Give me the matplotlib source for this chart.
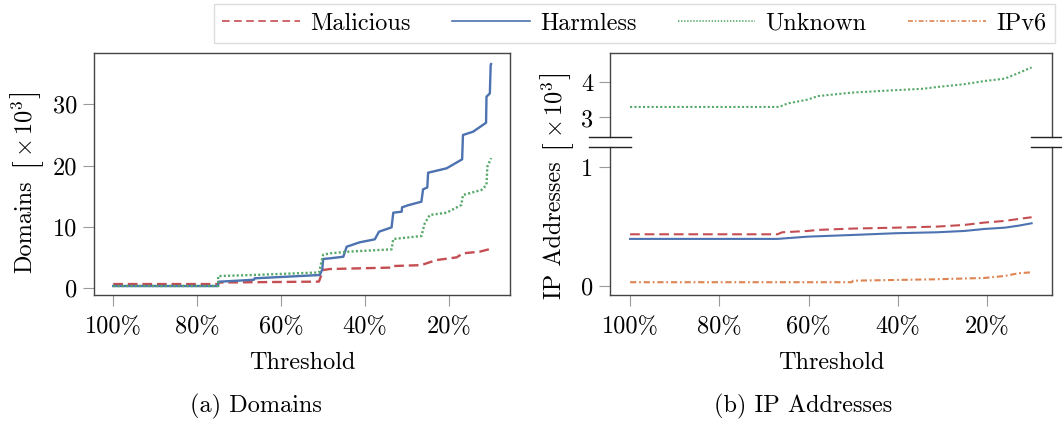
import matplotlib
matplotlib.use("Agg")
import matplotlib.pyplot as plt
from matplotlib.lines import Line2D

plt.rcParams['font.family'] = 'serif'
plt.rcParams['font.serif'] = ['cmr10']
plt.rcParams['mathtext.fontset'] = 'cm'
plt.rcParams['axes.unicode_minus'] = False
plt.rcParams['lines.scale_dashes'] = False

# colours / styles per series
RED, BLUE, GREEN, ORANGE = '#c44e52', '#4c72b0', '#55a868', '#dd8452'
DASH = (0, (7, 3.5))
DOT = (0, (1.5, 1.6))
DASHDOT = (0, (4.5, 2, 1.3, 2))

# (a) Domains, values in thousands
dom_mal_thr = [100, 75, 75, 51, 50, 48.4, 46, 33.5, 33.3, 26.6, 25.4, 23, 18.2, 16.7, 12.7, 10]
dom_mal = [0.6, 0.6, 0.85, 1.0, 2.9, 3.06, 3.1, 3.3, 3.55, 3.7, 3.99, 4.53, 4.97, 5.63, 5.9, 6.38]

dom_harm_thr = [100, 75, 75, 66.5, 66.3, 50.8, 50.2, 50, 48.4, 45.2, 44.4, 41.3, 37.7, 36.7,
                33.7, 33.3, 31.3, 31.2, 29.8, 26.6, 26.2, 25.2, 25.0, 20.6, 16.9, 16.7,
                14.3, 11.2, 11.1, 10.3, 10.1, 10]
dom_harm = [0.28, 0.28, 0.98, 1.3, 1.54, 2.08, 3.0, 4.7, 4.81, 5.07, 6.71, 7.43, 7.92, 9.17,
            9.88, 12.28, 12.44, 13.16, 13.49, 14.08, 16.1, 16.4, 18.82, 19.54, 21.01, 24.99,
            25.53, 27.0, 31.26, 31.8, 36.45, 36.6]

dom_unk_thr = [100, 75, 75, 66, 51, 50, 48.4, 44, 33.7, 33.3, 26.6, 25.8, 24.6, 20.6, 17.1,
               16.7, 12.3, 11.1, 10.9, 10]
dom_unk = [0.28, 0.28, 1.91, 2.1, 2.5, 5.4, 5.63, 5.9, 6.28, 7.97, 8.46, 10.54, 11.9, 12.28,
           13.54, 15.17, 16.0, 16.8, 19.8, 21.2]

# (b) IP addresses, values in thousands
ip_mal_thr = [100, 67, 65.9, 60.2, 57.9, 50.3, 40.4, 31.2, 25.1, 20.6, 16, 12.9, 10]
ip_mal = [0.434, 0.434, 0.451, 0.462, 0.471, 0.482, 0.49, 0.499, 0.513, 0.533, 0.547, 0.564, 0.578]

ip_harm_thr = [100, 67, 60.2, 50.3, 40.4, 31.2, 25.1, 20.6, 16, 12.9, 10]
ip_harm = [0.395, 0.395, 0.414, 0.428, 0.443, 0.451, 0.462, 0.479, 0.49, 0.507, 0.527]

ip_unk_thr = [100, 66.6, 64.7, 60.2, 57.9, 50.3, 40.4, 34.3, 31.2, 25.1, 20.6, 16.0, 12.9, 10]
ip_unk = [3.30, 3.30, 3.40, 3.51, 3.61, 3.71, 3.78, 3.82, 3.87, 3.95, 4.04, 4.11, 4.27, 4.43]

ip_v6_thr = [100, 50.3, 50, 31.2, 20.6, 16, 12.9, 10]
ip_v6 = [0.029, 0.029, 0.042, 0.054, 0.065, 0.082, 0.105, 0.113]

xticks = [100, 80, 60, 40, 20]
FS = 17.5
W, H = 1062, 423


def style(ax, hide=None):
    for s in ax.spines.values():
        s.set_color('#444444')
        s.set_linewidth(1.0)
    if hide:
        ax.spines[hide].set_visible(False)
    ax.tick_params(direction='out', length=8, width=0.8, color='#9a9a9a',
                   labelsize=FS, pad=4)
    ax.tick_params(axis='x', pad=7)
    ax.set_xlim(104.5, 5.5)
    ax.set_xticks(xticks)
    ax.set_xticklabels([f"{t}%" for t in xticks])


fig = plt.figure(figsize=(W / 100, H / 100), dpi=100)

def rect(x0, y0, x1, y1):
    return [x0 / W, 1 - y1 / H, (x1 - x0) / W, (y1 - y0) / H]

ax1 = fig.add_axes(rect(94.3, 52.7, 510, 295))
ax1.plot(dom_mal_thr, dom_mal, color=RED, lw=1.7, ls=DASH)
ax1.plot(dom_harm_thr, dom_harm, color=BLUE, lw=1.7)
ax1.plot(dom_unk_thr, dom_unk, color=GREEN, lw=1.7, ls=DOT)
style(ax1)
ax1.set_ylim(-1.19, 38.46)
ax1.set_yticks([0, 10, 20, 30])
ax1.set_xlabel('Threshold', fontsize=FS, labelpad=10)

ax2t = fig.add_axes(rect(610, 52.7, 1051.7, 136.7))
ax2b = fig.add_axes(rect(610, 147.3, 1051.7, 295))
ax2t.plot(ip_unk_thr, ip_unk, color=GREEN, lw=1.5, ls=DOT)
for ax in (ax2t, ax2b):
    ax.plot(ip_mal_thr, ip_mal, color=RED, lw=1.5, ls=DASH)
    ax.plot(ip_harm_thr, ip_harm, color=BLUE, lw=1.5)
    ax.plot(ip_v6_thr, ip_v6, color=ORANGE, lw=1.5, ls=DASHDOT)
style(ax2t, 'bottom')
style(ax2b, 'top')
ax2t.set_ylim(2.45, 4.85)
ax2t.set_yticks([3, 4])
ax2t.tick_params(axis='x', bottom=False, labelbottom=False)
ax2b.set_ylim(-0.079, 1.169)
ax2b.set_yticks([0, 1])
ax2b.set_xlabel('Threshold', fontsize=FS, labelpad=10)

# axis break marks
for yb in (136.7, 147.3):
    for xc in (610, 1051.7):
        fig.add_artist(Line2D([(xc - 21) / W, (xc + 21) / W], [1 - yb / H] * 2,
                              color='#222222', lw=1.0, transform=fig.transFigure))


# rotated y label built from pieces so the brackets can be taller than the text
def stacked_label(xc, yc, word):
    pieces = [(word, FS, 0), ('[', 23, 14), (r'$\times\,10^{3}$', FS, 1), (']', 23, 1)]
    r = fig.canvas.get_renderer()
    texts, hs, gaps = [], [], []
    for s, fs, g in pieces:
        t = fig.text(0, 0, s, rotation=90, fontsize=fs, ha='center', va='center')
        texts.append(t)
        hs.append(t.get_window_extent(r).height)
        gaps.append(g)
    total = sum(hs) + sum(gaps)
    cur = (H - yc) - total / 2
    for t, h, g in zip(texts, hs, gaps):
        cur += g
        t.set_position((xc / W, (cur + h / 2) / H))
        cur += h


stacked_label(25, 181, 'Domains')
stacked_label(555, 185, 'IP Addresses')

fig.text(256 / W, 1 - 406 / H, '(a) Domains', ha='center', va='center', fontsize=FS)
fig.text(802.7 / W, 1 - 406 / H, '(b) IP Addresses', ha='center', va='center', fontsize=FS)

handles = [Line2D([], [], color=RED, lw=1.2, ls=(0, (5.5, 3.2))),
           Line2D([], [], color=BLUE, lw=1.2),
           Line2D([], [], color=GREEN, lw=1.2, ls=(0, (1, 1.2))),
           Line2D([], [], color=ORANGE, lw=1.2, ls=(0, (3.5, 1.6, 1, 1.6)))]
leg = fig.legend(handles, ['Malicious', 'Harmless', 'Unknown', 'IPv6'], ncol=4,
                 loc='upper right', bbox_to_anchor=(1054.7 / W, 1 - 4 / H),
                 fontsize=FS, frameon=True, fancybox=False, framealpha=1,
                 edgecolor='#dddddd', handlelength=3.2, handletextpad=0.42,
                 columnspacing=1.7, borderpad=0.35, borderaxespad=0)
leg.get_frame().set_linewidth(1.0)

fig.savefig('out.png', dpi=100)
